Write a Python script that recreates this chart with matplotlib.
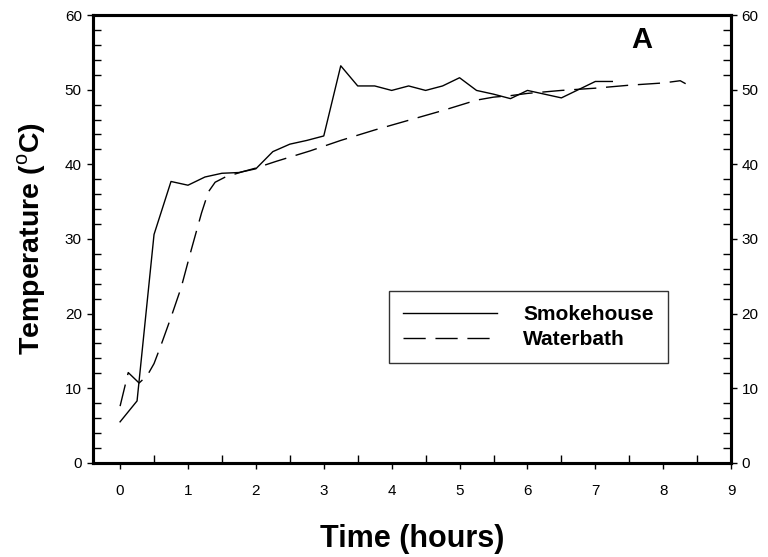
import matplotlib.pyplot as plt
from matplotlib.ticker import MultipleLocator

plt.rcParams['font.family'] = ['Liberation Sans', 'DejaVu Sans']
plt.rcParams['mathtext.fontset'] = 'custom'
plt.rcParams['mathtext.rm'] = 'Liberation Sans'
plt.rcParams['mathtext.bf'] = 'Liberation Sans:bold'

# smokehouse readings (every 15 min)
smoke_t = [0, 0.25, 0.5, 0.75, 1.0, 1.25, 1.5, 1.75, 2.0, 2.25, 2.5, 2.75, 3.0,
           3.25, 3.5, 3.75, 4.0, 4.25, 4.5, 4.75, 5.0, 5.25, 5.5, 5.75, 6.0,
           6.25, 6.5, 6.75, 7.0, 7.25]
smoke_temp = [5.5, 8.3, 30.6, 37.7, 37.2, 38.3, 38.8, 38.9, 39.4, 41.7, 42.7, 43.2, 43.8,
              53.2, 50.5, 50.5, 49.9, 50.5, 49.9, 50.5, 51.6, 49.9, 49.4, 48.8, 49.9,
              49.4, 48.9, 50.0, 51.1, 51.1]

# waterbath readings
water_t = [0, 0.12, 0.28, 0.4, 0.5, 0.6, 0.75, 0.9, 1.05, 1.2, 1.3, 1.4, 1.55,
           1.8, 2.0, 2.3, 2.8, 3.25, 3.75, 4.25, 4.75, 5.25, 5.5, 5.75, 6.0,
           6.5, 7.0, 7.5, 8.0, 8.25, 8.33]
water_temp = [7.6, 12.1, 10.7, 11.7, 13.3, 15.7, 19.5, 23.5, 28.6, 33.5, 36.3, 37.6, 38.3,
              39.0, 39.5, 40.4, 41.8, 43.2, 44.6, 45.9, 47.2, 48.6, 49.0, 49.2, 49.5,
              49.9, 50.2, 50.6, 50.9, 51.2, 50.8]

fig = plt.figure(figsize=(7.68, 5.57), dpi=100)
ax = fig.add_axes([0.121, 0.169, 0.831, 0.804])

ax.plot(smoke_t, smoke_temp, color='black', lw=1.0, label='Smokehouse')
ax.plot(water_t, water_temp, color='black', lw=1.0, linestyle=(0, (16, 7)),
        label='Waterbath')

ax.set_xlim(-0.4, 9)
ax.set_ylim(0, 60)
ax.xaxis.set_major_locator(MultipleLocator(1))
ax.xaxis.set_minor_locator(MultipleLocator(0.5))
ax.yaxis.set_major_locator(MultipleLocator(10))
ax.yaxis.set_minor_locator(MultipleLocator(2))

for s in ax.spines.values():
    s.set_linewidth(2.2)

ax.tick_params(which='major', direction='out', length=4, width=1, labelsize=11,
               pad=4)
ax.tick_params(axis='x', which='major', pad=11)
ax.tick_params(which='minor', direction='in', length=6, width=1)
ax.tick_params(axis='y', which='both', right=True)

ax2 = ax.twinx()
ax2.set_ylim(0, 60)
ax2.yaxis.set_major_locator(MultipleLocator(10))
ax2.yaxis.set_minor_locator(MultipleLocator(2))
ax2.tick_params(which='major', direction='out', length=4, width=1, labelsize=11)
ax2.tick_params(which='minor', direction='in', length=6, width=1)
for s in ax2.spines.values():
    s.set_linewidth(2.2)

ax.set_xlabel('Time (hours)', fontsize=22, fontweight='bold', labelpad=19)
ax.set_ylabel(r'Temperature ($^{\mathrm{o}}$C)', fontsize=20.5, fontweight='bold',
              labelpad=12)

ax.text(0.860, 0.945, 'A', transform=ax.transAxes, fontsize=21, fontweight='bold',
        va='center', ha='center')

leg = ax.legend(loc='center', bbox_to_anchor=(0.464, 0.219, 0.437, 0.169),
                mode='expand', frameon=True, fancybox=False, handlelength=4.55,
                handletextpad=1.25, borderpad=0.65, borderaxespad=0,
                labelspacing=0.3, prop={'weight': 'bold', 'size': 15})
leg.get_frame().set_edgecolor('black')
leg.get_frame().set_linewidth(1.0)

fig.savefig('out.png', dpi=100)
